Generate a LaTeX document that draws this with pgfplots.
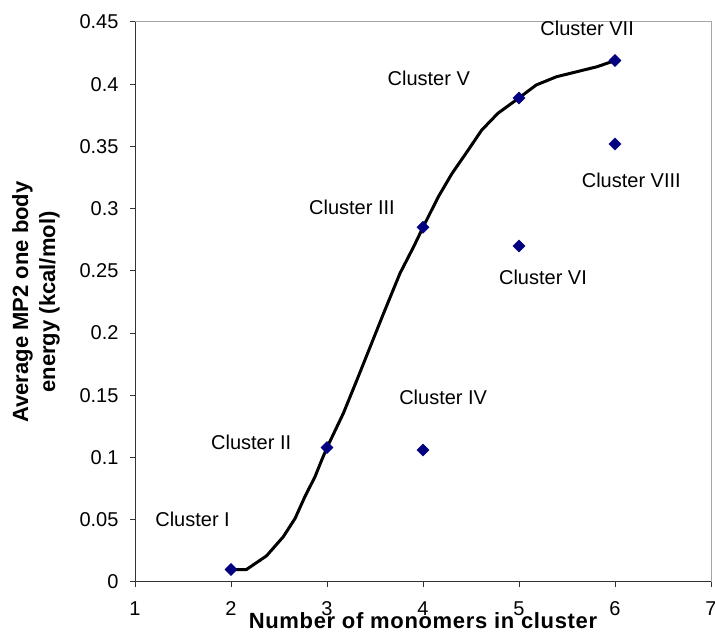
\documentclass[border=0pt]{standalone}
\usepackage{fontspec}
\setmainfont{Liberation Sans}
\usepackage{pgfplots}
\pgfplotsset{compat=1.18}
\definecolor{navy}{RGB}{0,0,128}
\begin{document}
\begin{tikzpicture}[x=1pt,y=1pt]
\path[use as bounding box] (0,0) rectangle (715,640);
\begin{axis}[
  at={(135pt,58pt)}, anchor=south west,
  scale only axis, width=576pt, height=560pt,
  xmin=1, xmax=7, ymin=0, ymax=0.45,
  xtick={1,2,3,4,5,6,7},
  ytick={0,0.05,0.1,0.15,0.2,0.25,0.3,0.35,0.4,0.45},
  scaled y ticks=false,
  yticklabel style={/pgf/number format/fixed, /pgf/number format/precision=2, xshift=-8pt},
  xticklabel style={yshift=-11pt},
  /pgf/number format/assume math mode=true,
  tick label style={font=\fontsize{20}{24}\selectfont},
  tick align=outside, tick pos=left, major tick length=5pt,
  tick style={black!80, line width=1pt},
  axis line style={gray!70, line width=1pt},
  xlabel={Number of monomers in cluster},
  xlabel style={font=\fontsize{22}{26}\bfseries\addfontfeature{LetterSpace=3}, at={(axis description cs:0.5,0)}, anchor=base, yshift=-46pt},
  ylabel={Average MP2 one body\\energy (kcal/mol)},
  ylabel style={font=\fontsize{22}{27}\bfseries, align=center, at={(axis description cs:-0.172,0.5)}, anchor=center},
  clip=false,
]
\draw[black!80, line width=1pt] (rel axis cs:0,1) -- (rel axis cs:0,0) -- (rel axis cs:1,0);
\addplot[only marks, mark=square*, mark size=4.3pt, mark options={rotate=45, fill=navy, draw=navy}]
  coordinates {(2,0.010) (3,0.108) (4,0.285) (4,0.106) (5,0.389) (5,0.270) (6,0.419) (6,0.352)};
\addplot[black, line width=3pt, line join=round, line cap=round, mark=none]
  coordinates {(2.00,0.010) (2.16,0.010) (2.37,0.021) (2.545,0.0364) (2.667,0.051) (2.77,0.0686)
    (2.875,0.0846) (2.945,0.098) (3.00,0.108) (3.17,0.1355) (3.31,0.162) (3.45,0.189)
    (3.59,0.216) (3.76,0.248) (3.90,0.269) (4.00,0.285) (4.16,0.3096) (4.30,0.328)
    (4.47,0.347) (4.61,0.363) (4.78,0.3766) (5.00,0.389) (5.18,0.3994) (5.39,0.406)
    (5.60,0.410) (5.81,0.414) (6.00,0.419)};
\begin{scope}[every node/.style={font=\fontsize{20}{24}\selectfont, inner sep=0pt}]
\node at (axis cs:1.60,0.0506) {Cluster I};
\node at (axis cs:2.21,0.1125) {Cluster II};
\node at (axis cs:3.26,0.301) {Cluster III};
\node at (axis cs:4.21,0.148) {Cluster IV};
\node at (axis cs:4.06,0.405) {Cluster V};
\node at (axis cs:5.25,0.245) {Cluster VI};
\node at (axis cs:5.71,0.445) {Cluster VII};
\node at (axis cs:6.17,0.323) {Cluster VIII};
\end{scope}
\end{axis}
\end{tikzpicture}
\end{document}
